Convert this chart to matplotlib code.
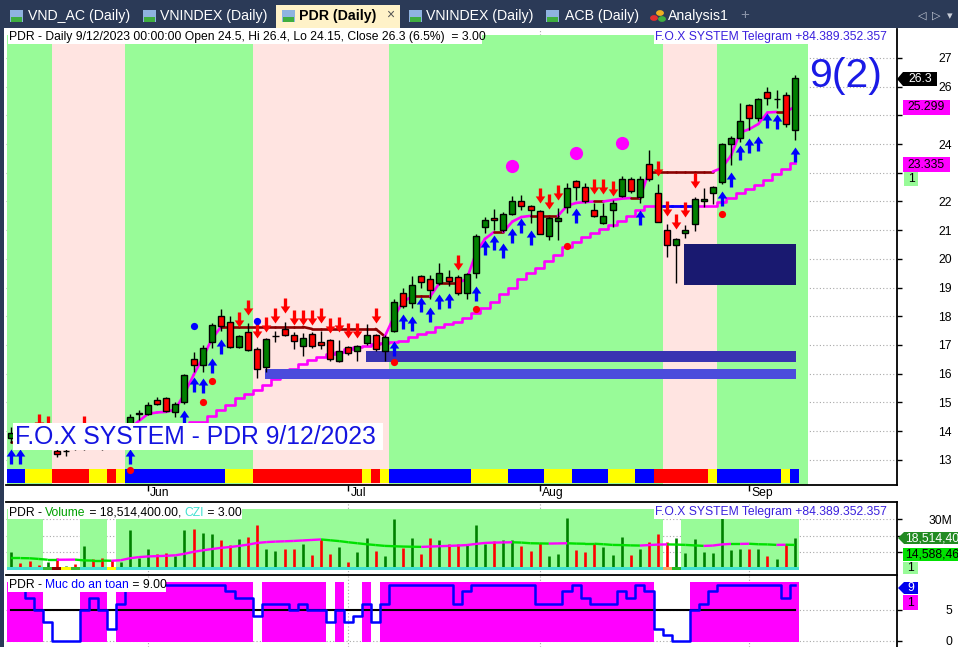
import numpy as np
import matplotlib
matplotlib.use("Agg")
import matplotlib.pyplot as plt
import matplotlib.transforms as mtransforms
from matplotlib.patches import Rectangle, Polygon
from matplotlib.path import Path
from matplotlib.markers import MarkerStyle
from matplotlib.collections import LineCollection
from matplotlib.text import Annotation

W, H = 958, 647
plt.rcParams['font.family'] = ['Liberation Sans', 'DejaVu Sans']

# ---------------- data ----------------
opens = [13.75, 13.94, 13.8, 13.65, 13.6, 13.3, 13.3, 13.45, 13.5, 13.7, 13.55, 13.55, 13.5,
         13.9, 14.6, 14.6, 15.1, 15.15, 14.67, 15.0, 16.5, 16.3, 17.1, 18.0, 17.8, 16.93, 17.45,
         16.86, 16.23, 17.3, 17.55, 17.35, 16.96, 17.4, 17.1, 17.17, 16.45, 16.93, 16.8, 17.07,
         17.35, 16.8, 17.5, 18.8, 18.45, 19.4, 19.3, 19.16, 19.37, 19.37, 18.8, 19.5, 21.1,
         21.43, 21.0, 21.57, 22.0, 21.84, 21.67, 20.8, 21.32, 21.8, 22.7, 22.5, 21.7, 21.25,
         21.7, 22.2, 22.8, 22.16, 23.3, 22.3, 21.0, 20.5, 20.9, 21.2, 22.0, 22.3, 22.68, 24.0,
         24.2, 25.36, 24.9, 25.8, 25.57, 25.7, 24.5]
highs = [14.15, 14.05, 13.9, 13.9, 13.85, 13.45, 13.45, 13.6, 13.85, 13.8, 13.7, 13.65, 13.7,
         14.6, 14.75, 15.0, 15.2, 15.2, 15.0, 16.0, 16.77, 17.0, 17.75, 18.25, 18.0, 17.35, 17.77,
         16.93, 17.25, 17.5, 17.8, 17.45, 17.42, 17.45, 17.5, 17.2, 17.17, 16.95, 17.0, 17.73,
         17.4, 17.35, 18.6, 19.0, 19.4, 19.45, 19.45, 19.85, 19.6, 19.45, 19.5, 20.85, 21.46,
         21.74, 21.65, 22.2, 22.23, 21.88, 21.7, 21.45, 21.77, 22.65, 22.75, 22.65, 21.95, 21.95,
         22.05, 22.9, 22.85, 22.9, 23.8, 22.6, 21.2, 20.73, 21.18, 22.15, 22.47, 22.55, 24.05,
         24.28, 25.43, 25.4, 25.6, 26.0, 25.87, 25.82, 26.4]
lows = [13.6, 13.7, 13.55, 13.5, 13.4, 13.1, 13.13, 13.35, 13.35, 13.4, 13.35, 13.4, 13.4,
        13.8, 14.4, 14.55, 14.9, 14.65, 14.5, 14.95, 16.07, 16.07, 16.9, 17.5, 16.9, 16.9, 16.78,
        15.85, 16.05, 17.1, 17.3, 16.86, 16.6, 16.9, 16.86, 16.45, 16.4, 16.65, 16.44, 17.0,
        16.8, 16.44, 17.45, 18.3, 18.3, 19.0, 18.6, 19.1, 19.06, 18.75, 18.6, 19.33, 20.9,
        21.0, 20.95, 21.53, 21.7, 21.25, 20.85, 20.66, 20.66, 21.6, 22.05, 21.95, 21.45, 21.2,
        21.1, 22.15, 22.3, 21.95, 22.7, 21.3, 20.07, 19.16, 20.73, 20.98, 21.8, 21.9, 22.6,
        23.27, 24.07, 24.5, 24.8, 25.36, 25.27, 24.6, 24.15]
closes = [13.94, 13.8, 13.65, 13.6, 13.7, 13.2, 13.31, 13.4, 13.7, 13.5, 13.45, 13.45, 13.6,
          14.5, 14.62, 14.9, 14.95, 14.7, 14.94, 15.95, 16.3, 16.9, 17.7, 17.66, 16.93, 17.3, 16.83,
          16.16, 17.2, 17.3, 17.35, 17.15, 17.25, 16.96, 17.0, 16.5, 16.8, 16.72, 16.96, 17.35,
          16.86, 17.28, 18.5, 18.36, 19.1, 19.2, 18.9, 19.5, 19.23, 18.8, 19.47, 20.8, 21.35,
          21.35, 21.57, 22.0, 21.84, 21.7, 20.87, 21.43, 21.43, 22.47, 22.5, 22.0, 21.5, 21.5,
          21.95, 22.8, 22.37, 22.8, 22.8, 21.3, 20.5, 20.7, 21.0, 22.1, 22.1, 22.5, 24.0,
          24.2, 24.8, 24.9, 25.57, 25.6, 25.58, 24.7, 26.3]

# trailing lines
upper_line = [13.63, 13.63, 13.62, 13.6, 13.6, 13.55, 13.5, 13.5, 13.5, 13.5, 13.55, 13.6, 13.8,
              14.1, 14.35, 14.6, 14.65, 14.67, 14.75, 15.3, 15.95, 16.55, 17.2, 17.63, 17.63, 17.63,
              17.63, 17.63, 17.63, 17.63, 17.63, 17.63, 17.63, 17.56, 17.56, 17.56, 17.56, 17.56,
              17.56, 17.56, 17.56, 17.3, 17.98, 18.5, 18.7, 18.7, 18.7, 19.16, 19.16, 19.16, 19.3,
              20.2, 20.7, 20.94, 20.94, 21.3, 21.46, 21.5, 21.5, 21.5, 21.5, 21.85, 21.95, 21.98,
              22.0, 22.0, 22.05, 22.1, 22.12, 22.12, 23.04, 23.04, 23.04, 23.04, 23.04, 23.04, 23.04,
              23.04, 23.17, 23.6, 24.4, 24.52, 24.7, 25.1, 25.12, 25.12, 25.3]
lower_line = [np.nan] * 13 + [
    13.5, 13.6, 13.7, 13.8, 13.9, 14.0, 14.15, 14.3, 14.32, 14.54, 14.74, 14.91, 15.15, 15.29,
    15.43, 15.6, 15.81, 16.0, 16.16, 16.34, 16.48, 16.58, 16.69, 16.75, 16.85, 16.92, 16.98,
    17.03, 17.07, 17.1, 17.14, 17.28, 17.38, 17.45, 17.63, 17.73, 17.8, 17.94, 18.1, 18.29,
    18.5, 18.78, 19.0, 19.3, 19.5, 19.7, 19.93, 20.14, 20.4, 20.6, 20.77, 20.9, 21.04, 21.18,
    21.32, 21.5, 21.7, 21.84, 21.84, 21.84, 21.84, 21.84, 21.84, 21.84, 21.84, 21.98, 22.12,
    22.3, 22.44, 22.57, 22.75, 22.96, 23.13, 23.34]
lower_blue_bars = [72, 73, 74]

# signals
sell_bars = [3, 4, 8, 11, 25, 26, 27, 28, 29, 30, 31, 32, 33, 34, 35, 36, 37, 38, 40, 49,
             58, 59, 60, 64, 65, 66, 71, 72, 73, 74, 75]
sell_tips = [14.07, 14.0, 14.0, 13.65, 17.64, 18.05, 17.23, 17.46, 17.76, 18.1, 17.7, 17.7,
             17.7, 17.76, 17.41, 17.46, 17.23, 17.23, 17.76, 19.61, 21.94, 21.74, 22.05, 22.26,
             22.26, 22.19, 22.89, 21.5, 21.03, 21.47, 22.46]
buy_bars = [0, 1, 13, 19, 20, 21, 22, 23, 42, 43, 44, 45, 46, 47, 48, 51, 52, 53, 54, 55,
            56, 57, 62, 69, 78, 79, 80, 81, 82, 83, 84, 86]
buy_tips = [13.38, 13.38, 13.38, 14.74, 15.9, 15.85, 16.55, 17.2, 17.15, 18.07, 18.0, 18.68,
            18.31, 18.78, 18.8, 19.06, 20.66, 20.83, 20.54, 21.07, 21.41, 21.0, 21.76, 21.7,
            22.37, 23.03, 23.97, 24.21, 24.28, 25.08, 25.05, 23.9]
red_dot_bars = [13, 21, 22, 42, 51, 61, 78]
red_dot_vals = [12.64, 15.0, 15.75, 16.4, 18.27, 20.46, 21.56]
blue_dot_bars = [20, 27]
blue_dot_vals = [17.66, 17.84]
pink_dot_bars = [55, 62, 67]
pink_dot_vals = [23.24, 23.7, 24.04]

# support zones: (first bar, last bar, low, high, colour)
zones = [(28, 86, 15.82, 16.16, '#4b4bdc'),
         (39, 86, 16.42, 16.80, '#3a33b2'),
         (74, 86, 19.10, 20.52, '#191970')]

# background state per bar: G = green, P = pink
price_bg = "GGGGGPPPPPPPPGGGGGGGGGGGGGGPPPPPPPPPPPPPPPGGGGGGGGGGGGGGGGGGGGGGGGGGGGGGPPPPPPGGGGGGGGGG"
ribbon = ("BBYYYRRRRYYRYBBBBBBBBBBBYYYRRRRRRRRRRRRYRY"
          "BBBBBBBBBYYYYBBBBYYYBBBBYYYBBRRRRRRYBBBBBBBYB")

volume = [10.3, 3.5, 4.9, 2.5, 4.3, 6.6, 2.1, 2.9, 14.2, 6.2, 6.6, 5.4, 4.5, 23.4, 6.6, 12.3,
          9.1, 9.8, 7.6, 23.4, 24.1, 21.6, 21.0, 17.5, 14.4, 18.0, 19.6, 26.5, 12.3, 11.1, 12.3,
          12.3, 15.4, 8.7, 18.3, 9.2, 13.4, 4.2, 10.3, 18.9, 11.1, 8.0, 30.3, 12.7, 18.5, 9.2,
          18.5, 17.3, 15.2, 15.4, 14.9, 26.8, 15.2, 16.9, 17.3, 17.5, 14.2, 10.7, 15.8, 7.6, 9.2,
          30.9, 11.7, 10.1, 15.8, 13.2, 8.7, 19.4, 8.2, 12.3, 16.3, 21.0, 16.3, 18.5, 9.6, 18.0,
          10.3, 9.6, 30.9, 11.7, 12.3, 12.3, 12.3, 8.0, 6.2, 15.2, 18.5]
volume_ma = [6.6, 6.6, 6.5, 6.1, 5.6, 5.6, 5.65, 5.7, 5.2, 5.1, 5.1, 5.0, 5.3, 6.5, 7.2, 7.6,
             7.8, 8.0, 8.3, 9.2, 10.4, 11.3, 12.1, 12.8, 13.3, 14.0, 14.8, 15.8, 16.3, 16.6, 16.8,
             17.0, 17.3, 17.6, 17.9, 17.4, 16.9, 16.2, 15.6, 15.0, 14.5, 14.0, 13.8, 13.6, 13.5,
             13.4, 13.6, 13.8, 14.0, 14.2, 14.5, 15.2, 15.8, 16.0, 16.1, 16.2, 16.0, 15.6, 15.5,
             15.4, 15.5, 15.6, 15.4, 15.3, 15.3, 15.0, 14.6, 14.5, 14.3, 14.2, 14.5, 14.8, 14.9,
             14.8, 14.6, 14.3, 14.0, 14.2, 14.9, 15.2, 15.2, 15.3, 15.0, 14.9, 14.6, 14.7, 14.59]
# volume background: G = green, W = white ; strip colours under the white bars
volume_bg = "GGGGWWWWGGGWGGGGGGGGGGGGGGGGGGGGGGGGGGGGGGGGGGGGGGGGGGGGGGGGGGGGGGGGGGGGWWGGGGGGGGGGGGG"
strip_special = {4: '#33bb33', 5: '#8b0000', 6: '#ffff00', 7: '#33bb33', 11: '#ffff00',
                 72: '#f4a460', 73: '#22bb22'}

safety = [9, 9, 7, 5, 3, 0, 0, 0, 5, 7, 5, 2, 6, 9, 9, 9, 9, 9, 9, 9, 9, 9, 9, 9, 8, 7, 7, 4,
          6, 6, 6, 5, 6, 5, 5, 3, 5, 3, 4, 6, 3, 6, 9, 9, 9, 9, 9, 9, 9, 6, 8, 9, 9, 9, 9, 9,
          9, 9, 6, 6, 6, 8, 9, 7, 6, 6, 6, 8, 7, 9, 8, 2, 1, 0, 0, 5, 6, 8, 9, 9, 9, 9, 9, 9,
          9, 7, 9]

month_bars = [15, 37, 58, 81]
month_names = ['Jun', 'Jul', 'Aug', 'Sep']
price_ticks = list(range(13, 28))
price_tick_labels = ['' if v in (23, 25) else str(v) for v in price_ticks]  # hidden under tags

n = len(closes)
bars = np.arange(n)

# ---------------- figure ----------------
fig = plt.figure(figsize=(W / 100, H / 100), dpi=100)
fig.patch.set_facecolor('white')


def fx(x):
    return x / W


def fy(y):
    return 1 - y / H


def box(x0, y0, x1, y1, color, z=1):
    fig.add_artist(Rectangle((fx(x0), fy(y1)), (x1 - x0) / W, (y1 - y0) / H,
                             transform=fig.transFigure, facecolor=color,
                             edgecolor='none', zorder=z))


def poly(pts, color, z=2):
    fig.add_artist(Polygon([(fx(a), fy(b)) for a, b in pts], closed=True,
                           transform=fig.transFigure, facecolor=color,
                           edgecolor='none', zorder=z))


def label(x, y, s, color='black', size=8.7, ha='left', weight='normal', z=3):
    return fig.text(fx(x), fy(y), s, color=color, fontsize=size, ha=ha,
                    va='center', fontweight=weight, zorder=z)


def chain(x, y, parts, size=8.7):
    prev = label(x, y, parts[0][0], color=parts[0][1], size=size)
    for s, c in parts[1:]:
        ann = Annotation(s, xy=(1, 0), xycoords=prev, va='bottom', ha='left',
                         color=c, fontsize=size, zorder=3)
        fig.add_artist(ann)
        prev = ann


L, R = 6, 897
xl = (-0.582, 97.22)
ax = fig.add_axes([fx(L), fy(485), (R - L) / W, 456 / H])
axv = fig.add_axes([fx(L), fy(575), (R - L) / W, 73 / H])
axs = fig.add_axes([fx(L), 0, (R - L) / W, 71 / H])

for a in (ax, axv, axs):
    a.set_xlim(*xl)
    a.set_facecolor('white')
    a.spines['left'].set_visible(False)
    a.spines['right'].set_linewidth(1.3)
    a.set_xticks([])
    a.tick_params(axis='y', left=False, right=True, labelleft=False, labelright=True,
                  length=3.6, width=1, labelsize=8.7, pad=36)
    for b in month_bars:
        a.axvline(b, color='#a8a8a8', lw=0.8, ls=(0, (1, 2)), zorder=0.2)

# ---------------- price panel ----------------
ax.set_ylim(12.122, 28.01)
ax.spines['top'].set_visible(False)
ax.spines['bottom'].set_linewidth(1.3)
ax.set_yticks(price_ticks)
ax.set_yticklabels(price_tick_labels)
for v in price_ticks:
    ax.axhline(v, color='#a8a8a8', lw=0.8, ls=(0, (1, 2)), zorder=0.2)

bg_col = {'G': '#98fb98', 'P': '#ffe4e1'}
for i, s in enumerate(price_bg):
    ax.fill_between([i - 0.5, i + 0.5], 12.122, 27.8, color=bg_col[s], lw=0, zorder=0.5)

rib_col = {'B': '#0000ff', 'Y': '#ffff00', 'R': '#ff0000'}
for i, s in enumerate(ribbon):
    ax.fill_between([i - 0.5, i + 0.5], 12.18, 12.68, color=rib_col[s], lw=0, zorder=0.6)

# lower stepped trailing line
ax.plot(bars, lower_line, color='#ff00ff', lw=1.9, drawstyle='steps-mid', zorder=1)
for b in lower_blue_bars:
    ax.plot([b - 0.5, b + 0.5], [lower_line[b]] * 2, color='#0000ff', lw=1.9, zorder=1.1)

# upper trailing line, dark red where it does not rise
segs, cols = [], []
for i in range(n - 1):
    segs.append([(i, upper_line[i]), (i + 1, upper_line[i + 1])])
    cols.append('#ff00ff' if upper_line[i + 1] > upper_line[i] else '#8b0000')
ax.add_collection(LineCollection(segs, colors=cols, linewidths=1.9, zorder=1.2,
                                 capstyle='round'))

for b0, b1, lo, hi, c in zones:
    ax.add_patch(Rectangle((b0 - 0.12, lo), b1 - b0 + 0.24, hi - lo, facecolor=c,
                           edgecolor='none', zorder=2))

# candles
o, h_, l_, c_ = map(np.array, (opens, highs, lows, closes))
up = c_ >= o
ax.vlines(bars, l_, h_, color='black', lw=1, zorder=4)
body_lo = np.minimum(o, c_)
body_h = np.maximum(np.abs(c_ - o), 0.012)
ax.bar(bars, body_h, bottom=body_lo, width=0.66,
       color=np.where(up, '#008000', '#ff0000'), edgecolor='black', linewidth=1, zorder=5)

# arrows
up_path = Path([(0, 0), (0.32, -0.47), (0.11, -0.47), (0.11, -1), (-0.11, -1),
                (-0.11, -0.47), (-0.32, -0.47), (0, 0)], closed=True)
dn_path = Path([(x, -y) for x, y in up_path.vertices], closed=True)
ax.plot(buy_bars, buy_tips, ls='none', marker=MarkerStyle(up_path), ms=21.6,
        mfc='#0000ff', mec='none', zorder=6)
ax.plot(sell_bars, sell_tips, ls='none', marker=MarkerStyle(dn_path), ms=21.6,
        mfc='#ff0000', mec='none', zorder=6)
ax.plot(red_dot_bars, red_dot_vals, 'o', ms=5.2, color='#ff0000', mec='none', zorder=6)
ax.plot(blue_dot_bars, blue_dot_vals, 'o', ms=5.2, color='#0000ff', mec='none', zorder=6)
ax.plot(pink_dot_bars, pink_dot_vals, 'o', ms=9.5, color='#ff00ff', mec='none', zorder=6)

ax.set_xticks(month_bars)
ax.tick_params(axis='x', bottom=True, length=4.3, width=1, labelbottom=False)
blend = mtransforms.blended_transform_factory(ax.transData, ax.transAxes)
for b, m in zip(month_bars, month_names):
    ax.text(b + 0.25, -0.017, m, transform=blend, ha='left', va='center', fontsize=8.7,
            clip_on=False)
for t in ax.get_yticklabels():
    t.set_horizontalalignment('right')

# ---------------- volume panel ----------------
axv.set_ylim(-3.64, 40.6)
axv.spines['top'].set_linewidth(1.3)
axv.spines['bottom'].set_linewidth(1.3)
axv.set_yticks([10, 20, 30])
axv.set_yticklabels(['', '', '30M'])  # 10M / 20M sit under the value tags
for t in axv.get_yticklabels():
    t.set_horizontalalignment('right')
for v in (10, 20, 30):
    axv.axhline(v, color='#a8a8a8', lw=0.8, ls=(0, (1, 2)), zorder=0.2)
for i, s in enumerate(volume_bg):
    if s == 'G':
        axv.fill_between([i - 0.5, i + 0.5], -0.6, 36.4, color='#98fb98', lw=0, zorder=0.5)
axv.vlines(bars, 0, volume, colors=np.where(up, '#008000', '#ff0000'), lw=1.9, zorder=2)
for i in range(n):
    axv.fill_between([i - 0.5, i + 0.5], -0.6, 1.4, color=strip_special.get(i, '#40e0d0'),
                     lw=0, zorder=2.5)
vsegs, vcols = [], []
for i in range(n - 1):
    vsegs.append([(i, volume_ma[i]), (i + 1, volume_ma[i + 1])])
    vcols.append('#ff00ff' if volume_ma[i + 1] > volume_ma[i] else '#00e000')
axv.add_collection(LineCollection(vsegs, colors=vcols, linewidths=1.7, zorder=3))

# ---------------- safety panel ----------------
axs.set_ylim(-0.968, 10.48)
axs.spines['top'].set_visible(False)
axs.spines['bottom'].set_visible(False)
axs.set_yticks([0, 5])
for t in axs.get_yticklabels():
    t.set_horizontalalignment('right')
for v in (0, 5):
    axs.axhline(v, color='#a8a8a8', lw=0.8, ls=(0, (1, 2)), zorder=0.2)
for i, v in enumerate(safety):
    if v >= 5:
        axs.fill_between([i - 0.5, i + 0.5], -0.21, 9.47, color='#ff00ff', lw=0, zorder=0.5)
axs.plot([0, n - 1], [5, 5], color='black', lw=1.5, zorder=2)
axs.plot(bars, safety, color='#0000ff', lw=1.8, drawstyle='steps-mid', zorder=3)

# ---------------- chrome, titles, value labels ----------------
box(0, 0, W, 28, '#2b3a57')
box(0, 28, 4, H, '#2b3a57')
box(276, 5, 400, 28, '#fff2c8')
tabs = [(10, 28, 'VND_AC (Daily)'), (143, 160, 'VNINDEX (Daily)'), (409, 426, 'VNINDEX (Daily)'),
        (546, 565, 'ACB (Daily)')]
for ix, tx, s in tabs + [(282, 299, None)]:
    box(ix, 10, ix + 13, 22, '#8fb3e0', z=2)
    box(ix + 1, 17, ix + 12, 22, '#3fae3f', z=2)
for ix, tx, s in tabs:
    label(tx, 16, s, color='white', size=10.2)
label(299, 16, 'PDR (Daily)', color='black', size=10.2, weight='bold')
label(386, 15, '×', color='#555555', size=10)
for cx, cy, c in ((654, 18, '#e03030'), (660, 13, '#f0b020'), (662, 19, '#40b040')):
    fig.add_artist(plt.Circle((fx(cx), fy(cy)), 3.2 / W, color=c, transform=fig.transFigure,
                              zorder=2))
label(668, 16, 'Analysis1', color='white', size=10.2)
label(745, 15, '+', color='#8a93a8', size=11, ha='center')
for xx, s in ((922, '◁'), (936, '▷'), (950, '▾')):
    label(xx, 16, s, color='#c8cdd8', size=8, ha='center')

box(8, 30, 482, 44, 'white')
label(9, 37, 'PDR - Daily 9/12/2023 00:00:00 Open 24.5, Hi 26.4, Lo 24.15, Close 26.3 (6.5%)  = 3.00')
box(654, 30, 888, 44, 'white')
label(655, 37, 'F.O.X SYSTEM Telegram +84.389.352.357', color='#3a20dd')
label(846, 76, '9(2)', color='#1a1ae6', size=29.5, ha='center')

box(13, 423, 383, 450, 'white')
label(15, 437, 'F.O.X SYSTEM - PDR 9/12/2023', color='#1414e0', size=17.8)

box(8, 506, 242, 519, 'white')
chain(9, 512.5, [('PDR - ', 'black'), ('Volume', '#00a000'), (' = 18,514,400.00, ', 'black'),
                 ('CZI', '#40e0d0'), (' = 3.00', 'black')])
box(654, 506, 888, 519, 'white')
label(655, 512.5, 'F.O.X SYSTEM Telegram +84.389.352.357', color='#3a20dd')

box(8, 578, 166, 592, 'white')
chain(9, 585, [('PDR - ', 'black'), ('Muc do an toan', '#0000ff'), (' = 9.00', 'black')])

# right-hand value tags
poly([(897, 79), (903, 72), (937, 72), (937, 86), (903, 86)], 'black')
label(920, 79, '26.3', color='white', ha='center')
box(903, 100, 950, 115, '#ff00ff', z=2)
label(926.5, 107.5, '25.299', ha='center')
box(903, 157, 950, 172, '#ff00ff', z=2)
label(926.5, 164.5, '23.335', ha='center')
box(904, 172, 918, 186, '#98fb98', z=2)
label(911, 179, '1', ha='center')

poly([(898, 538), (904, 532), (960, 532), (960, 544), (904, 544)], '#228b22')
label(905, 538.5, '18,514,40', color='white')
box(903, 548, 960, 561, '#00e000', z=2)
label(905, 554.5, '14,588,46')
box(903, 562, 918, 574, '#98fb98', z=2)
label(910.5, 568, '1', ha='center')

poly([(898, 588), (904, 582), (918, 582), (918, 594), (904, 594)], '#0000ee')
label(911, 588, '9', color='white', ha='center')
box(903, 595, 918, 610, '#ff00ff', z=2)
label(910.5, 602.5, '1', ha='center')

fig.savefig('out.png', dpi=100)
